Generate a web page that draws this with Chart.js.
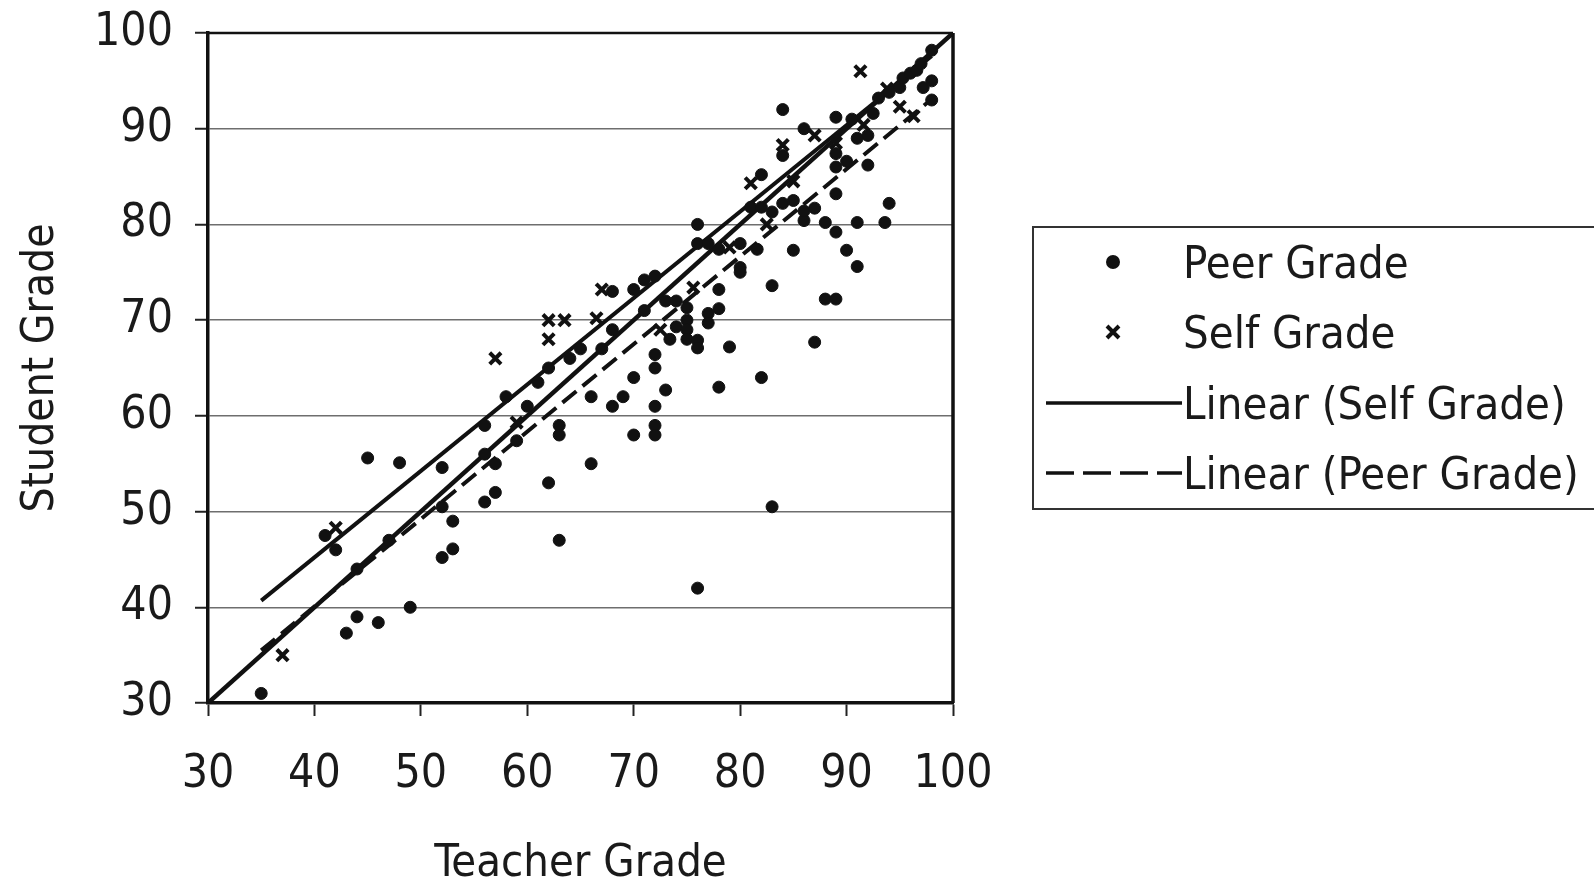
<!DOCTYPE html>
<html>
<head>
<meta charset="utf-8">
<script src="https://cdn.jsdelivr.net/npm/chart.js@4/dist/chart.umd.min.js"></script>
<style>
  html, body { margin: 0; padding: 0; background: #fff; }
  #wrap { position: relative; width: 1594px; height: 882px; overflow: hidden; }
  #legend {
    position: absolute; left: 1032px; top: 226px; width: 620px; height: 284px;
    border: 2px solid #333; box-sizing: border-box;
    font-family: 'DejaVu Sans Condensed', 'Liberation Sans', sans-serif; font-size: 45px; color: #1a1a1a;
  }
  .row { position: absolute; left: 0; height: 50px; }
  .row span { position: absolute; left: 149px; top: 50%; transform: translateY(-50%); white-space: nowrap; line-height: 1; }
  .row svg { position: absolute; left: 0; top: 0; }
</style>
</head>
<body>
<div id="wrap">
  <canvas id="c" width="1594" height="882"></canvas>
  <div id="legend">
    <div class="row" style="top:9px"><svg width="150" height="50"><circle cx="79" cy="25" r="7" fill="#111"/></svg><span>Peer Grade</span></div>
    <div class="row" style="top:79px"><svg width="150" height="50"><path d="M73 19 L85 31 M85 19 L73 31" stroke="#111" stroke-width="4"/></svg><span>Self Grade</span></div>
    <div class="row" style="top:150px"><svg width="150" height="50"><line x1="12" y1="25" x2="148" y2="25" stroke="#111" stroke-width="3.5"/></svg><span>Linear (Self Grade)</span></div>
    <div class="row" style="top:220px"><svg width="150" height="50"><line x1="12" y1="25" x2="148" y2="25" stroke="#111" stroke-width="3.5" stroke-dasharray="28 9"/></svg><span>Linear (Peer Grade)</span></div>
  </div>
</div>
<script>
// ---- data ----
const peerTeacher = [35,43,44,46,49,41,42,44,47,52,45,48,52,52,53,53,56,57,56,57,56,58,59,60,61,62,62,63,63,63,64,65,67,68,66,66,68,69,70,70,68,70,71,72,71,72,72,73,72,72,72,73,74,75,74,75,75,75,73.4,76,76,77,78,80,81.6,76,76,77,78,77,78,79,76,80,80,82,83,83,78,81,82,83,82,84,85,84,84,86,85,86,86,87,87,88,88,89,89,89,89,90,89,89,90.5,90,91,91,92,92,91,93.6,94,93,94,95,95.3,96,96.6,97,98,97.2,98,98,92.5];
const peerStudent = [31,37.3,39,38.4,40,47.5,46,44,47,50.5,55.6,55.1,54.6,45.2,46.1,49,51,52,56,55,59,62,57.4,61,63.5,65,53,47,59,58,66,67,67,69,62,55,61,62,64,58,73,73.2,74.2,74.6,71,66.4,65,62.7,61,59,58,72,72,71.3,69.3,70,69,68,68,80,78,78,77.4,78,77.4,67.9,67.1,70.7,71.2,69.7,73.2,67.2,42,75.5,75,64,73.6,50.5,63,81.8,81.8,81.3,85.2,82.2,82.5,92,87.2,90,77.3,80.4,81.4,81.7,67.7,80.2,72.2,72.2,79.2,83.2,86,86.6,87.4,91.2,91,77.3,75.6,80.2,86.2,89.3,89,80.2,82.2,93.2,93.8,94.3,95.3,95.8,96.1,96.8,98.2,94.3,95,93,91.6];
const selfTeacher = [37,42,57,59,62,62,63.5,66.5,67,72.5,75.6,79,81,82.5,84,87,91.3,91.6,93.8,95,96.3,89,85];
const selfStudent = [35,48.3,66,59.3,68,70,70,70.2,73.2,69,73.4,77.6,84.3,80,88.3,89.3,96,90.4,94.2,92.3,91.3,88.5,84.5];
// trend lines (end points)
const selfTrendX = [35, 98];
const selfTrendY = [40.7, 97.6];
const peerTrendX = [35, 98];
const peerTrendY = [35.5, 93.1];
const equalX = [30, 100];
const equalY = [30, 100];
const tickValues = [30, 40, 50, 60, 70, 80, 90, 100];

const pts = (xs, ys) => xs.map((x, i) => ({x, y: ys[i]}));
const FONT = "'DejaVu Sans Condensed', 'Liberation Sans', sans-serif";

const frame = {
  id: 'frame',
  beforeDatasetsDraw(chart) {
    const {ctx, chartArea: a} = chart;
    ctx.save();
    ctx.strokeStyle = '#111';
    ctx.lineWidth = 2.5;
    ctx.beginPath();
    ctx.moveTo(a.left, a.top); ctx.lineTo(a.right, a.top);
    ctx.stroke();
    ctx.lineWidth = 3.5;
    ctx.beginPath();
    ctx.moveTo(a.right, a.top); ctx.lineTo(a.right, a.bottom);
    ctx.stroke();
    ctx.restore();
  }
};

new Chart(document.getElementById('c'), {
  type: 'scatter',
  data: {
    datasets: [
      { label: 'Peer Grade', data: pts(peerTeacher, peerStudent), pointStyle: 'circle', pointRadius: 6,
        backgroundColor: '#111', borderColor: '#111', borderWidth: 1 },
      { label: 'Self Grade', data: pts(selfTeacher, selfStudent), pointStyle: 'crossRot', pointRadius: 8,
        borderColor: '#111', borderWidth: 4 },
      { label: 'Linear (Self Grade)', type: 'line', data: pts(selfTrendX, selfTrendY), showLine: true,
        borderColor: '#111', borderWidth: 4, pointRadius: 0, fill: false },
      { label: 'Linear (Peer Grade)', type: 'line', data: pts(peerTrendX, peerTrendY), showLine: true,
        borderColor: '#111', borderWidth: 4, borderDash: [18, 8], pointRadius: 0, fill: false },
      { label: 'Equal', type: 'line', data: pts(equalX, equalY), showLine: true,
        borderColor: '#111', borderWidth: 4.5, pointRadius: 0, fill: false }
    ]
  },
  options: {
    responsive: false,
    animation: false,
    layout: { padding: { left: 0, right: 641, top: 33, bottom: 0 } },
    plugins: { legend: { display: false }, tooltip: { enabled: false } },
    scales: {
      x: {
        type: 'linear', min: 30, max: 100,
        afterBuildTicks: s => { s.ticks = tickValues.map(v => ({value: v})); },
        afterFit: s => { s.height = 179; s.paddingLeft = 0; s.paddingRight = 0; },
        ticks: { color: '#1a1a1a', font: { family: FONT, size: 46 }, padding: 31 },
        grid: { drawOnChartArea: false, drawTicks: true, tickLength: 13, tickColor: '#222', tickWidth: 2 },
        border: { color: '#111', width: 3.5 },
        title: { display: true, text: 'Teacher Grade', color: '#1a1a1a', font: { family: FONT, size: 45, lineHeight: 0.8 }, padding: { top: 0, bottom: 0 } }
      },
      y: {
        type: 'linear', min: 30, max: 100,
        afterBuildTicks: s => { s.ticks = tickValues.map(v => ({value: v})); },
        afterFit: s => { s.width = 208; s.paddingTop = 0; s.paddingBottom = 0; },
        ticks: { color: '#1a1a1a', font: { family: FONT, size: 46 }, padding: 22 },
        grid: { drawOnChartArea: true, color: '#6e6e6e', lineWidth: 1.5, drawTicks: true, tickLength: 13, tickColor: '#222', tickWidth: 2 },
        border: { color: '#111', width: 3.5 },
        title: { display: true, text: 'Student Grade', color: '#1a1a1a', font: { family: FONT, size: 44 }, padding: { top: 15, bottom: 0 } }
      }
    }
  },
  plugins: [frame]
});
</script>
</body>
</html>
